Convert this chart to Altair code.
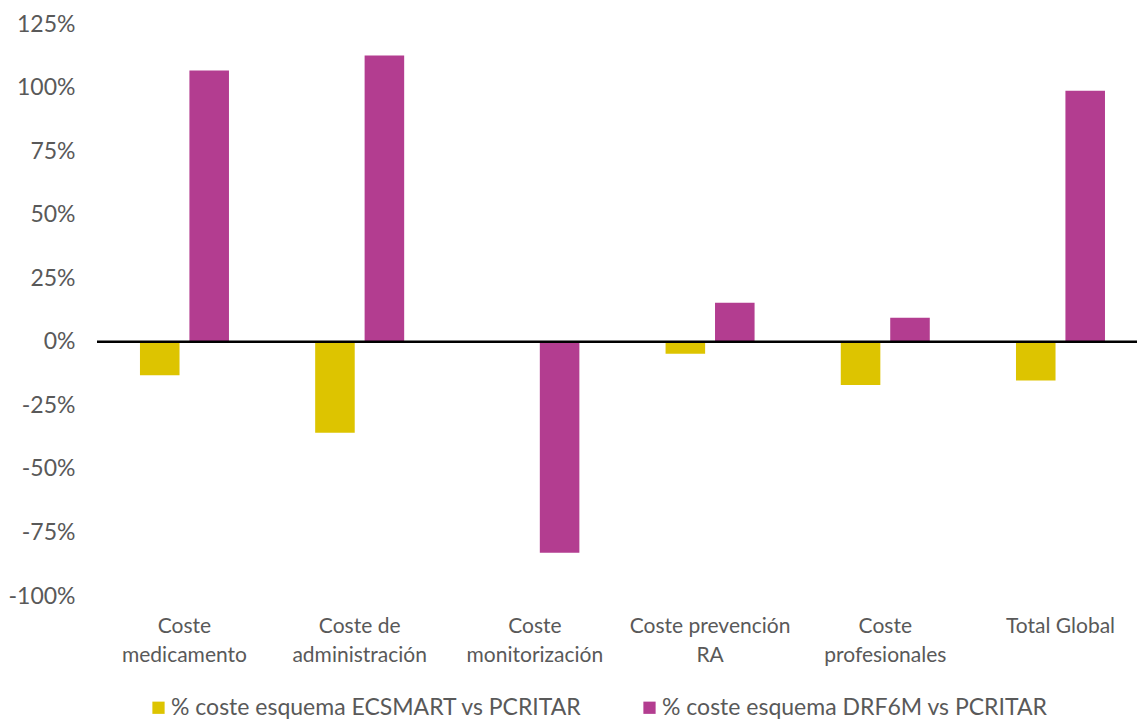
import altair as alt
import pandas as pd

categories = [
    "Coste\nmedicamento",
    "Coste de\nadministración",
    "Coste\nmonitorización",
    "Coste prevención\nRA",
    "Coste\nprofesionales",
    "Total Global",
]
series = ["% coste  esquema ECSMART vs PCRITAR", "% coste esquema DRF6M vs PCRITAR"]
ecsmart = [-13.2, -35.8, 0.0, -4.7, -17.0, -15.2]
drf6m = [106.7, 112.6, -83.0, 15.4, 9.5, 98.7]
colors = ["#DDC400", "#B33D90"]
y_ticks = [-100, -75, -50, -25, 0, 25, 50, 75, 100, 125]

rows = []
for c, a, b in zip(categories, ecsmart, drf6m):
    rows.append({"cat": c, "serie": series[0], "value": a})
    rows.append({"cat": c, "serie": series[1], "value": b})
df = pd.DataFrame(rows)

font = "Lato"
gray = "#595959"

bars = alt.Chart(df).mark_bar().encode(
    x=alt.X(
        "cat:N",
        sort=categories,
        scale=alt.Scale(paddingInner=0.492, paddingOuter=0.214, align=0.573),
        axis=alt.Axis(
            title=None, labelAngle=0, domain=False, ticks=False,
            labelExpr="split(datum.label, '\\n')",
            labelFontSize=21, labelColor=gray, labelPadding=19,
            labelLineHeight=29, labelFont=font,
        ),
    ),
    xOffset=alt.XOffset("serie:N", sort=series,
                        scale=alt.Scale(paddingInner=0.2, paddingOuter=0)),
    y=alt.Y(
        "value:Q",
        scale=alt.Scale(domain=[-100, 125], nice=False),
        axis=alt.Axis(
            title=None, values=y_ticks, labelExpr="datum.value + '%'",
            grid=False, domain=False, ticks=False, labelPadding=22,
            labelFontSize=23, labelColor=gray, labelFont=font,
        ),
    ),
    color=alt.Color(
        "serie:N", sort=series,
        scale=alt.Scale(domain=series, range=colors),
        legend=alt.Legend(
            title=None, orient="none", direction="horizontal",
            legendX=50, legendY=672, symbolType="square", symbolSize=150,
            symbolStrokeWidth=0, labelFontSize=23, labelColor=gray,
            labelFont=font, columnPadding=50, labelOffset=1, labelLimit=700,
        ),
    ),
)

zero = alt.Chart(pd.DataFrame({"v": [0]})).mark_rule(
    color="black", strokeWidth=2.5
).encode(y="v:Q")

chart = alt.layer(bars, zero).properties(
    width=1040,
    height=572,
    autosize=alt.AutoSizeParams(type="none"),
    padding={"left": 97, "top": 24, "right": 0, "bottom": 123},
).configure_view(stroke=None)

chart.save("out.html", embed_options={"renderer": "svg", "actions": False})
